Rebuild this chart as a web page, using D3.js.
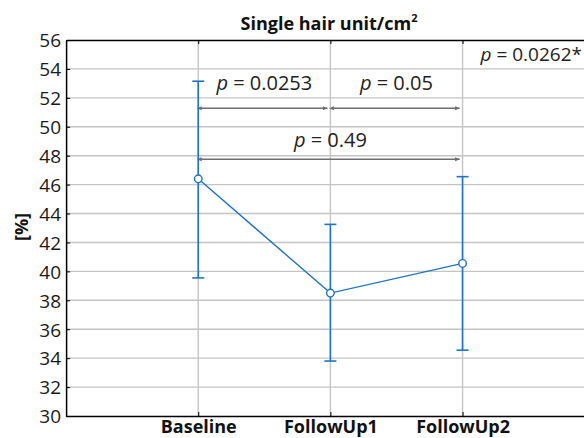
<!DOCTYPE html>
<html>
<head>
<meta charset="utf-8">
<script src="https://cdn.jsdelivr.net/npm/d3@7"></script>
<style>
  body { margin: 0; background: #fff; }
  svg { display: block; }
  svg text { font-family: "Open Sans", "Noto Sans", sans-serif; }
</style>
</head>
<body>
<div id="chart"></div>
<script>
// values
const categories = ["Baseline", "FollowUp1", "FollowUp2"];
const means = [46.4, 38.5, 40.55];
const upper = [53.15, 43.25, 46.55];
const lower = [39.55, 33.8, 34.55];
const yTicks = [30, 32, 34, 36, 38, 40, 42, 44, 46, 48, 50, 52, 54, 56];

// pairwise comparisons: from index, to index, arrow level, label level, label
const compFrom = [0, 1, 0];
const compTo = [1, 2, 2];
const compArrowY = [51.28, 51.28, 47.75];
const compLabelY = [52.55, 52.55, 48.6];
const compP = ["0.0253", "0.05", "0.49"];
const overallP = "0.0262*";

const width = 584, height = 438;
const blue = "#1f74c3";

const svg = d3.select("#chart").append("svg")
    .attr("width", width)
    .attr("height", height);

const x = d3.scaleLinear().domain([0, 4]).range([66.1, 594.7]);
const y = d3.scaleLinear().domain([30, 56]).range([416, 40]);

// grid
svg.append("g").selectAll("line")
    .data(yTicks.slice(1, -1))
    .enter().append("line")
    .attr("x1", x(0)).attr("x2", x(4))
    .attr("y1", d => y(d)).attr("y2", d => y(d))
    .attr("stroke", "#c4c4c4").attr("stroke-width", 1.4);

svg.append("g").selectAll("line")
    .data(categories)
    .enter().append("line")
    .attr("x1", (d, i) => x(i + 1)).attr("x2", (d, i) => x(i + 1))
    .attr("y1", y(56)).attr("y2", y(30))
    .attr("stroke", "#c4c4c4").attr("stroke-width", 1.4);

// axes
const yAxis = d3.axisLeft(y).tickValues(yTicks).tickSizeInner(-4).tickSizeOuter(0).tickPadding(5);
const gy = svg.append("g").attr("transform", `translate(${x(0)},0)`).call(yAxis)
    .attr("font-family", null).attr("font-size", null);
gy.select(".domain").attr("stroke", "#000").attr("stroke-width", 1.5);
gy.selectAll(".tick line").attr("stroke", "#000");
gy.selectAll("text").attr("font-size", 19).attr("fill", "#1a1a1a").attr("dy", "0.36em");

const xAxis = d3.axisBottom(x).tickValues([1, 2, 3]).tickFormat(d => categories[d - 1])
    .tickSizeInner(-4).tickSizeOuter(0).tickPadding(4);
const gx = svg.append("g").attr("transform", `translate(0,${y(30)})`).call(xAxis)
    .attr("font-family", null).attr("font-size", null);
gx.select(".domain").attr("stroke", "#000").attr("stroke-width", 1.5);
gx.selectAll(".tick line").attr("stroke", "#000");
gx.selectAll("text").attr("font-size", 18).attr("font-weight", "bold").attr("fill", "#111");

const xTop = d3.axisTop(x).tickValues([1, 2, 3]).tickFormat("").tickSizeInner(-4).tickSizeOuter(0);
const gt = svg.append("g").attr("transform", `translate(0,${y(56)})`).call(xTop);
gt.select(".domain").attr("stroke", "#000").attr("stroke-width", 1.5);
gt.selectAll(".tick line").attr("stroke", "#000");

// title and y label
svg.append("text")
    .attr("x", 329).attr("y", 30)
    .attr("text-anchor", "middle")
    .attr("font-size", 18).attr("font-weight", "bold").attr("fill", "#111")
    .html('Single hair unit/cm<tspan font-size="11" dy="-8">2</tspan>');

svg.append("text")
    .attr("transform", "translate(28,227) rotate(-90)")
    .attr("text-anchor", "middle")
    .attr("font-size", 18).attr("font-weight", "bold").attr("fill", "#111")
    .text("[%]");

// comparison arrows
const defs = svg.append("defs");
["start", "end"].forEach(k => {
    defs.append("marker")
        .attr("id", "arr-" + k)
        .attr("viewBox", "0 0 10 10")
        .attr("refX", k === "end" ? 9 : 1).attr("refY", 5)
        .attr("markerWidth", 7).attr("markerHeight", 5)
        .attr("markerUnits", "userSpaceOnUse")
        .attr("orient", "auto-start-reverse")
        .append("path").attr("d", "M0,1 L10,5 L0,9 Z").attr("fill", "#6e6e6e");
});

compFrom.forEach((f, i) => {
    svg.append("line")
        .attr("x1", x(f + 1) + 3).attr("x2", x(compTo[i] + 1) - 3)
        .attr("y1", y(compArrowY[i])).attr("y2", y(compArrowY[i]))
        .attr("stroke", "#6e6e6e").attr("stroke-width", 1.4)
        .attr("marker-start", "url(#arr-start)")
        .attr("marker-end", "url(#arr-end)");
    svg.append("text")
        .attr("x", (x(f + 1) + x(compTo[i] + 1)) / 2)
        .attr("y", y(compLabelY[i]))
        .attr("text-anchor", "middle")
        .attr("font-size", 20).attr("fill", "#222")
        .html(`<tspan font-style="italic">p</tspan> = ${compP[i]}`);
});

svg.append("text")
    .attr("x", 582).attr("y", 61)
    .attr("text-anchor", "end")
    .attr("font-size", 19).attr("fill", "#222")
    .html(`<tspan font-style="italic">p</tspan> = ${overallP}`);

// error bars
const eb = svg.append("g").attr("stroke", blue).attr("stroke-width", 1.6);
categories.forEach((c, i) => {
    const cx = x(i + 1);
    eb.append("line").attr("x1", cx).attr("x2", cx).attr("y1", y(lower[i])).attr("y2", y(upper[i]));
    eb.append("line").attr("x1", cx - 6).attr("x2", cx + 6).attr("y1", y(lower[i])).attr("y2", y(lower[i]));
    eb.append("line").attr("x1", cx - 6).attr("x2", cx + 6).attr("y1", y(upper[i])).attr("y2", y(upper[i]));
});

// mean line and markers
const line = d3.line().x((d, i) => x(i + 1)).y(d => y(d));
svg.append("path").datum(means)
    .attr("d", line)
    .attr("fill", "none").attr("stroke", blue).attr("stroke-width", 1.4);

svg.append("g").selectAll("circle")
    .data(means)
    .enter().append("circle")
    .attr("cx", (d, i) => x(i + 1)).attr("cy", d => y(d))
    .attr("r", 3.8)
    .attr("fill", "#fff").attr("stroke", blue).attr("stroke-width", 1.4);
</script>
</body>
</html>
